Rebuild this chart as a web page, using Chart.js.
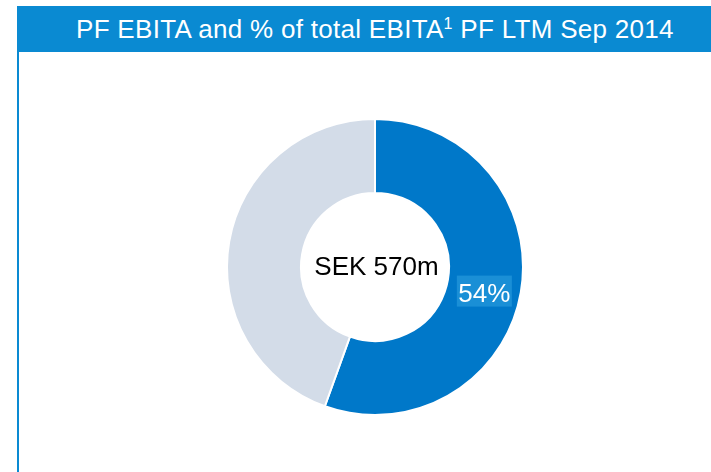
<!DOCTYPE html>
<html>
<head>
<meta charset="utf-8">
<script src="https://cdn.jsdelivr.net/npm/chart.js@4.4.1/dist/chart.umd.min.js"></script>
<style>
  html, body { margin: 0; padding: 0; background: #fff; }
  body { width: 711px; height: 472px; position: relative; overflow: hidden; font-family: "Liberation Sans", Arial, sans-serif; }
  #header {
    position: absolute; left: 17px; top: 6px; width: 694px; height: 46px;
    background: #0a8ad2; color: #fff; font-size: 26px; line-height: 46px;
    padding-left: 59px; box-sizing: border-box; white-space: nowrap;
    letter-spacing: 0.3px;
  }
  #header sup { font-size: 16px; vertical-align: 9px; line-height: 0; }
  #leftLine { position: absolute; left: 17px; top: 52px; width: 2px; height: 420px; background: #0a8ad2; }
  #chartBox { position: absolute; left: 226px; top: 118px; width: 298px; height: 298px; }
</style>
</head>
<body>
<div id="header">PF EBITA and % of total EBITA<sup>1</sup> PF LTM Sep 2014</div>
<div id="leftLine"></div>
<div id="chartBox"><canvas id="donut"></canvas></div>
<script>
// slices as drawn (blue segment first, clockwise from 12 o'clock)
const categories = ['Segment', 'Rest of group'];
const shares = [55.5, 44.5];
const sliceColors = ['#0078c9', '#d3dce8'];
const centerLabel = 'SEK 570m';
const shareLabel = '54%';

// draws the centre text and the boxed percentage on the blue slice
const labelPlugin = {
    id: 'labels',
    afterDatasetsDraw(chart) {
        const ctx = chart.ctx;
        const arc = chart.getDatasetMeta(0).data[0];
        ctx.save();
        ctx.font = '26px "Liberation Sans", Arial, sans-serif';
        ctx.textAlign = 'center';
        ctx.textBaseline = 'alphabetic';
        ctx.fillStyle = '#000';
        ctx.fillText(centerLabel, arc.x + 1.5, arc.y + 8);

        const p = arc.getCenterPoint();
        const bx = p.x, by = p.y + 5;
        ctx.fillStyle = '#1a8fd6';
        ctx.fillRect(bx - 27.5, by - 15.5, 55, 31);
        ctx.fillStyle = '#fff';
        ctx.fillText(shareLabel, bx, by + 10.5);
        ctx.restore();
    }
};

const chart = new Chart(document.getElementById('donut'), {
    type: 'doughnut',
    data: {
        labels: categories,
        datasets: [{
            data: shares,
            backgroundColor: sliceColors,
            borderColor: '#ffffff',
            borderWidth: 2,
            hoverOffset: 0
        }]
    },
    options: {
        responsive: true,
        maintainAspectRatio: false,
        animation: false,
        cutout: '50%',
        layout: { padding: 0 },
        plugins: {
            legend: { display: false },
            tooltip: { enabled: false }
        }
    },
    plugins: [labelPlugin]
});
</script>
</body>
</html>
